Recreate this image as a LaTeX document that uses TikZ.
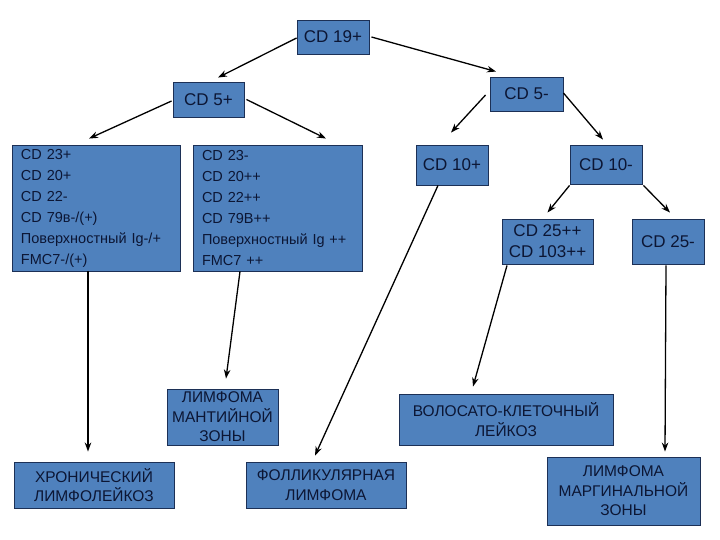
\documentclass[tikz,border=0pt]{standalone}
\usepackage{fontspec}
\setmainfont{Liberation Sans}
\usetikzlibrary{arrows.meta,calc}
\definecolor{boxblue}{RGB}{79,129,189}
\definecolor{boxline}{RGB}{28,48,86}
\definecolor{boxtext}{RGB}{12,22,52}
\tikzset{
  box/.style={draw=boxline, fill=boxblue, line width=0.9bp, inner sep=0pt,
    text=boxtext, align=center},
  bigf/.style={font=\fontsize{17bp}{21bp}\selectfont},
  listf/.style={font=\fontsize{14.5bp}{21bp}\selectfont},
  diagf/.style={font=\fontsize{15.5bp}{19.5bp}\selectfont},
  conn/.style={line width=1.3bp, draw=black, -{Stealth[length=9bp,width=6.5bp]}}
}
\begin{document}
\begin{tikzpicture}[x=1bp,y=-1bp]
\useasboundingbox (0,0) rectangle (720,540);
\fill[white] (0,0) rectangle (720,540);

% row 1-2
\node[box,bigf,minimum width=72bp,minimum height=34bp] (cd19) at (333,37) {CD 19+};
\node[box,bigf,minimum width=71bp,minimum height=35bp] (cd5p) at (208.5,99.5) {CD 5+};
\node[box,bigf,minimum width=73bp,minimum height=34bp] (cd5m) at (526.5,94) {CD 5-};

% row 3
\node[box,listf,align=left,text width=150bp,minimum width=168bp,minimum height=126bp] (lbox) at (96,208)
 {CD 23+\\CD 20+\\CD 22-\\CD 79в-/(+)\\Поверхностный Ig-/+\\FMC7-/(+)};
\node[box,listf,align=left,text width=151bp,minimum width=169bp,minimum height=126bp] (mbox) at (277.5,208)
 {CD 23-\\CD 20++\\CD 22++\\CD 79B++\\Поверхностный Ig ++\\FMC7 ++};
\node[box,bigf,minimum width=72bp,minimum height=40bp] (cd10p) at (452,165) {CD 10+};
\node[box,bigf,minimum width=72bp,minimum height=39bp] (cd10m) at (606,164.5) {CD 10-};

% row 4
\node[box,bigf,minimum width=91bp,minimum height=45bp] (cd25pp) at (547.5,241.5) {CD 25++\\CD 103++};
\node[box,bigf,minimum width=72bp,minimum height=45bp] (cd25m) at (668,241.5) {CD 25-};

% diagnoses
\node[box,diagf,minimum width=111bp,minimum height=56bp] (mantle) at (222.5,417) {ЛИМФОМА\\МАНТИЙНОЙ\\ЗОНЫ};
\node[box,diagf,minimum width=214bp,minimum height=51bp] (hairy) at (506,419.5) {ВОЛОСАТО-КЛЕТОЧНЫЙ\\ЛЕЙКОЗ};
\node[box,diagf,minimum width=160bp,minimum height=46bp] (cll) at (94,485) {ХРОНИЧЕСКИЙ\\ЛИМФОЛЕЙКОЗ};
\node[box,diagf,minimum width=160bp,minimum height=46bp] (foll) at (326,485) {ФОЛЛИКУЛЯРНАЯ\\ЛИМФОМА};
\node[box,diagf,minimum width=153bp,minimum height=68bp] (marg) at (623.5,491) {ЛИМФОМА\\МАРГИНАЛЬНОЙ\\ЗОНЫ};

% connectors
\draw[conn] ($(cd19.west)+(0,1)$) -- ($(cd5p.north)+(9.5,-4)$);
\draw[conn] ($(cd19.east)+(2,0)$) -- ($(cd5m.north)+(-30.5,-5)$);
\draw[conn] ($(cd5p.west)+(-1,1.5)$) -- ($(lbox.north)+(-7,-6)$);
\draw[conn] ($(cd5p.east)+(2,0)$) -- ($(mbox.north)+(48.5,-6)$);
\draw[conn] ($(cd5m.west)+(-4,1)$) -- ($(cd10p.north)+(-1,-12)$);
\draw[conn] ($(cd5m.east)+(0,-1)$) -- ($(cd10m.north)+(-3,-5)$);
\draw[conn] ($(cd10m.south west)+(0,1)$) -- ($(cd25pp.north)+(0,-6)$);
\draw[conn] ($(cd10m.south east)+(1,1)$) -- ($(cd25m.north)+(2,-6)$);
\draw[conn] ($(lbox.south)+(-8,0)$) -- ($(cll.north)+(-6,-10)$);
\draw[conn] ($(mbox.south)+(-37.5,0)$) -- ($(mantle.north)+(3.5,-10)$);
\draw[conn] ($(cd10p.south)+(-14,0)$) -- ($(foll.north)+(-11,-6)$);
\draw[conn] ($(cd25pp.south)+(-40.5,1)$) -- ($(hairy.north)+(-33,-7)$);
\draw[conn] ($(cd25m.south)+(-2,1)$) -- ($(marg.north)+(41.5,-5)$);
\end{tikzpicture}
\end{document}
